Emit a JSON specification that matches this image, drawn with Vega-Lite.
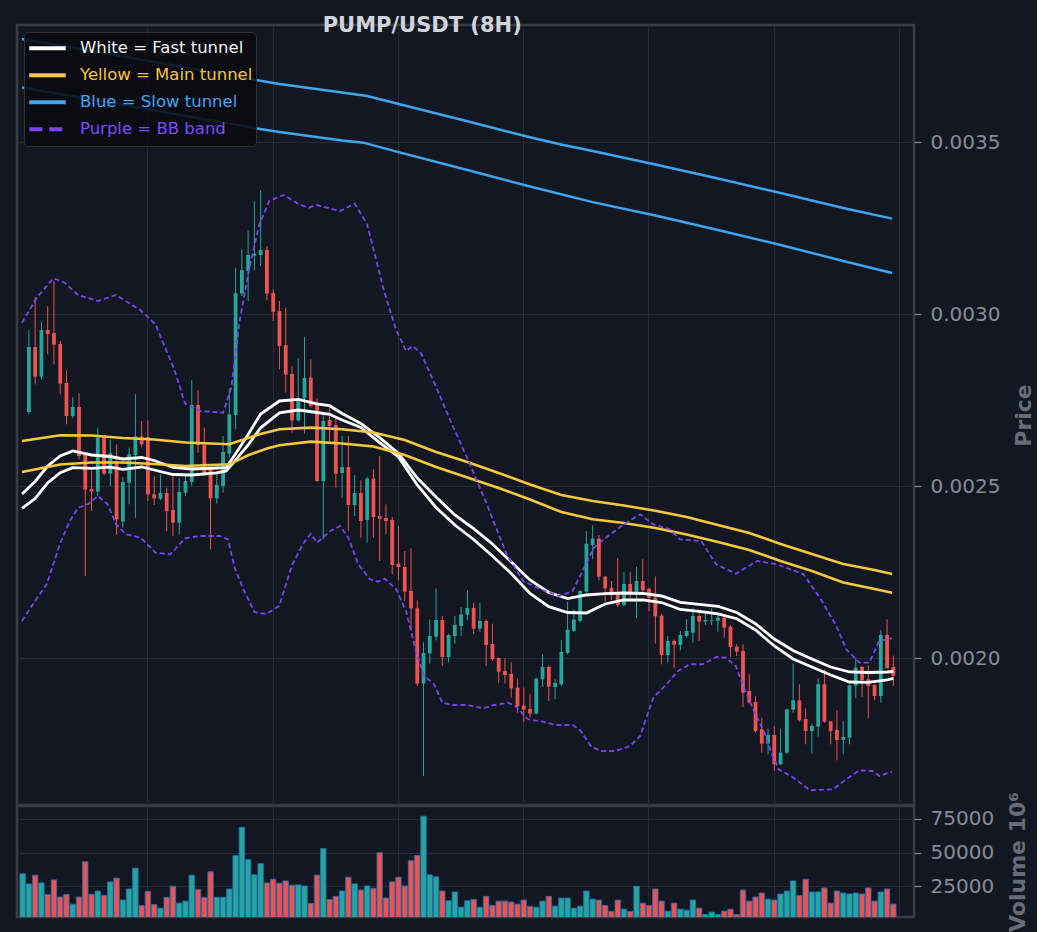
{
  "$schema": "https://vega.github.io/schema/vega-lite/v6.json",
  "background": "#131722",
  "padding": {"left": 15, "top": 14, "right": 0, "bottom": 0},
  "bounds": "flush",
  "title": {
    "text": "PUMP/USDT (8H)",
    "font": "DejaVu Sans",
    "fontSize": 21,
    "fontWeight": "bold",
    "color": "#d1d4dc",
    "anchor": "start",
    "dx": 307,
    "offset": -12
  },
  "datasets": {
    "candles": [
      {"i": -1, "v": 34310},
      {"i": 0, "o": 0.0027157, "h": 0.0029541, "l": 0.0027089, "c": 0.0029046, "v": 26845},
      {"i": 1, "o": 0.0029046, "h": 0.0030500, "l": 0.0027961, "c": 0.0028184, "v": 33314},
      {"i": 2, "o": 0.0028184, "h": 0.0029773, "l": 0.0028097, "c": 0.0029541, "v": 27592},
      {"i": 3, "o": 0.0029541, "h": 0.0030229, "l": 0.0028833, "c": 0.0029424, "v": 19133},
      {"i": 4, "o": 0.0029453, "h": 0.0030965, "l": 0.0028543, "c": 0.0029114, "v": 29831},
      {"i": 5, "o": 0.0029134, "h": 0.0029221, "l": 0.0027670, "c": 0.0027980, "v": 17142},
      {"i": 6, "o": 0.0028000, "h": 0.0028368, "l": 0.0026798, "c": 0.0027041, "v": 19133},
      {"i": 7, "o": 0.0027041, "h": 0.0027583, "l": 0.0026973, "c": 0.0027302, "v": 11918},
      {"i": 8, "o": 0.0027302, "h": 0.0027699, "l": 0.0025781, "c": 0.0025878, "v": 17142},
      {"i": 9, "o": 0.0025926, "h": 0.0025926, "l": 0.0022389, "c": 0.0024899, "v": 43266},
      {"i": 10, "o": 0.0024918, "h": 0.0025442, "l": 0.0024279, "c": 0.0024841, "v": 19133},
      {"i": 11, "o": 0.0024841, "h": 0.0026701, "l": 0.0024715, "c": 0.0026411, "v": 21621},
      {"i": 12, "o": 0.0026411, "h": 0.0026459, "l": 0.0025325, "c": 0.0025364, "v": 18386},
      {"i": 13, "o": 0.0025364, "h": 0.0026353, "l": 0.0025006, "c": 0.0025955, "v": 28338},
      {"i": 14, "o": 0.0025684, "h": 0.0026217, "l": 0.0023581, "c": 0.0024037, "v": 31075},
      {"i": 15, "o": 0.0023969, "h": 0.0025267, "l": 0.0023794, "c": 0.0025122, "v": 14903},
      {"i": 16, "o": 0.0025103, "h": 0.0026120, "l": 0.0024473, "c": 0.0025926, "v": 23114},
      {"i": 17, "o": 0.0025907, "h": 0.0027670, "l": 0.0024085, "c": 0.0026449, "v": 38539},
      {"i": 18, "o": 0.0026449, "h": 0.0026895, "l": 0.0026120, "c": 0.0026217, "v": 10922},
      {"i": 19, "o": 0.0026430, "h": 0.0026915, "l": 0.0024570, "c": 0.0024763, "v": 21372},
      {"i": 20, "o": 0.0024763, "h": 0.0025296, "l": 0.0024453, "c": 0.0024647, "v": 11669},
      {"i": 21, "o": 0.0024637, "h": 0.0025345, "l": 0.0024589, "c": 0.0024802, "v": 8932},
      {"i": 22, "o": 0.0024802, "h": 0.0024957, "l": 0.0023697, "c": 0.0024279, "v": 16894},
      {"i": 23, "o": 0.0024308, "h": 0.0025345, "l": 0.0023552, "c": 0.0023940, "v": 25104},
      {"i": 24, "o": 0.0023940, "h": 0.0025219, "l": 0.0023601, "c": 0.0024831, "v": 12664},
      {"i": 25, "o": 0.0024812, "h": 0.0025345, "l": 0.0024715, "c": 0.0025151, "v": 14157},
      {"i": 26, "o": 0.0025122, "h": 0.0028077, "l": 0.0025006, "c": 0.0027360, "v": 33314},
      {"i": 27, "o": 0.0027360, "h": 0.0027787, "l": 0.0025975, "c": 0.0026198, "v": 22865},
      {"i": 28, "o": 0.0026198, "h": 0.0026701, "l": 0.0025296, "c": 0.0025345, "v": 16894},
      {"i": 29, "o": 0.0025519, "h": 0.0025519, "l": 0.0023165, "c": 0.0024647, "v": 35802},
      {"i": 30, "o": 0.0024647, "h": 0.0025442, "l": 0.0024492, "c": 0.0025035, "v": 16894},
      {"i": 31, "o": 0.0025006, "h": 0.0026459, "l": 0.0024812, "c": 0.0025994, "v": 16894},
      {"i": 32, "o": 0.0025946, "h": 0.0027845, "l": 0.0025829, "c": 0.0027089, "v": 23114},
      {"i": 33, "o": 0.0027070, "h": 0.0031353, "l": 0.0026653, "c": 0.0030606, "v": 47745},
      {"i": 34, "o": 0.0030597, "h": 0.0031886, "l": 0.0030529, "c": 0.0031285, "v": 68644},
      {"i": 35, "o": 0.0031256, "h": 0.0032438, "l": 0.0030384, "c": 0.0031721, "v": 44759},
      {"i": 36, "o": 0.0031701, "h": 0.0033291, "l": 0.0031275, "c": 0.0031760, "v": 33563},
      {"i": 37, "o": 0.0031721, "h": 0.0033601, "l": 0.0031401, "c": 0.0031866, "v": 41774},
      {"i": 38, "o": 0.0031866, "h": 0.0031982, "l": 0.0030403, "c": 0.0030597, "v": 27592},
      {"i": 39, "o": 0.0030616, "h": 0.0030723, "l": 0.0029802, "c": 0.0030074, "v": 30329},
      {"i": 40, "o": 0.0030093, "h": 0.0030384, "l": 0.0028397, "c": 0.0029075, "v": 27343},
      {"i": 41, "o": 0.0029105, "h": 0.0030190, "l": 0.0027719, "c": 0.0028242, "v": 29085},
      {"i": 42, "o": 0.0028261, "h": 0.0028484, "l": 0.0026556, "c": 0.0026915, "v": 25850},
      {"i": 43, "o": 0.0026915, "h": 0.0028717, "l": 0.0026876, "c": 0.0027554, "v": 26099},
      {"i": 44, "o": 0.0027554, "h": 0.0029337, "l": 0.0026527, "c": 0.0028145, "v": 25353},
      {"i": 45, "o": 0.0028155, "h": 0.0028688, "l": 0.0027283, "c": 0.0027331, "v": 12415},
      {"i": 46, "o": 0.0027399, "h": 0.0027554, "l": 0.0025132, "c": 0.0025151, "v": 33314},
      {"i": 47, "o": 0.0025151, "h": 0.0027089, "l": 0.0023455, "c": 0.0026895, "v": 52970},
      {"i": 48, "o": 0.0026924, "h": 0.0027263, "l": 0.0026314, "c": 0.0026750, "v": 15401},
      {"i": 49, "o": 0.0026779, "h": 0.0026992, "l": 0.0024957, "c": 0.0025364, "v": 17640},
      {"i": 50, "o": 0.0025383, "h": 0.0026459, "l": 0.0024666, "c": 0.0025558, "v": 21621},
      {"i": 51, "o": 0.0025558, "h": 0.0026459, "l": 0.0023697, "c": 0.0024453, "v": 31822},
      {"i": 52, "o": 0.0024453, "h": 0.0025325, "l": 0.0024133, "c": 0.0024802, "v": 26845},
      {"i": 53, "o": 0.0024802, "h": 0.0025170, "l": 0.0023504, "c": 0.0023988, "v": 22367},
      {"i": 54, "o": 0.0024017, "h": 0.0025267, "l": 0.0023358, "c": 0.0025219, "v": 25353},
      {"i": 55, "o": 0.0025219, "h": 0.0025490, "l": 0.0023504, "c": 0.0024104, "v": 23611},
      {"i": 56, "o": 0.0024133, "h": 0.0025878, "l": 0.0022825, "c": 0.0024056, "v": 49984},
      {"i": 57, "o": 0.0024075, "h": 0.0024473, "l": 0.0023600, "c": 0.0023988, "v": 16396},
      {"i": 58, "o": 0.0024017, "h": 0.0024104, "l": 0.0022438, "c": 0.0022709, "v": 28338},
      {"i": 59, "o": 0.0022748, "h": 0.0023843, "l": 0.0022263, "c": 0.0022651, "v": 31822},
      {"i": 60, "o": 0.0022651, "h": 0.0023116, "l": 0.0021662, "c": 0.0021934, "v": 25353},
      {"i": 61, "o": 0.0021953, "h": 0.0023194, "l": 0.0020810, "c": 0.0021449, "v": 44013},
      {"i": 62, "o": 0.0021449, "h": 0.0021682, "l": 0.0019192, "c": 0.0019259, "v": 47745},
      {"i": 63, "o": 0.0019259, "h": 0.0020470, "l": 0.0016575, "c": 0.0020151, "v": 76854},
      {"i": 64, "o": 0.0020141, "h": 0.0021130, "l": 0.0019841, "c": 0.0020645, "v": 33563},
      {"i": 65, "o": 0.0020626, "h": 0.0022031, "l": 0.0020519, "c": 0.0021110, "v": 32070},
      {"i": 66, "o": 0.0021110, "h": 0.0021226, "l": 0.0019773, "c": 0.0020035, "v": 21621},
      {"i": 67, "o": 0.0020035, "h": 0.0020713, "l": 0.0019870, "c": 0.0020674, "v": 14406},
      {"i": 68, "o": 0.0020646, "h": 0.0021227, "l": 0.0020423, "c": 0.0020965, "v": 20874},
      {"i": 69, "o": 0.0020936, "h": 0.0021489, "l": 0.0020636, "c": 0.0021275, "v": 9678},
      {"i": 70, "o": 0.0021266, "h": 0.0021973, "l": 0.0021101, "c": 0.0021460, "v": 14406},
      {"i": 71, "o": 0.0021460, "h": 0.0021605, "l": 0.0020694, "c": 0.0020859, "v": 15401},
      {"i": 72, "o": 0.0020859, "h": 0.0021605, "l": 0.0020772, "c": 0.0021082, "v": 9678},
      {"i": 73, "o": 0.0021082, "h": 0.0021130, "l": 0.0019773, "c": 0.0020384, "v": 17640},
      {"i": 74, "o": 0.0020413, "h": 0.0021004, "l": 0.0019919, "c": 0.0019967, "v": 10922},
      {"i": 75, "o": 0.0020006, "h": 0.0020006, "l": 0.0019289, "c": 0.0019609, "v": 14157},
      {"i": 76, "o": 0.0019628, "h": 0.0019996, "l": 0.0019260, "c": 0.0019512, "v": 14157},
      {"i": 77, "o": 0.0019541, "h": 0.0019880, "l": 0.0018853, "c": 0.0019124, "v": 13410},
      {"i": 78, "o": 0.0019144, "h": 0.0019415, "l": 0.0018417, "c": 0.0018601, "v": 11918},
      {"i": 79, "o": 0.0018620, "h": 0.0019144, "l": 0.0018146, "c": 0.0018504, "v": 14903},
      {"i": 80, "o": 0.0018523, "h": 0.0018969, "l": 0.0018272, "c": 0.0018388, "v": 10176},
      {"i": 81, "o": 0.0018388, "h": 0.0019434, "l": 0.0018368, "c": 0.0019405, "v": 9678},
      {"i": 82, "o": 0.0019386, "h": 0.0020113, "l": 0.0019163, "c": 0.0019744, "v": 14157},
      {"i": 83, "o": 0.0019744, "h": 0.0019793, "l": 0.0018756, "c": 0.0019173, "v": 17640},
      {"i": 84, "o": 0.0019163, "h": 0.0019386, "l": 0.0018804, "c": 0.0019279, "v": 10425},
      {"i": 85, "o": 0.0019240, "h": 0.0020529, "l": 0.0019192, "c": 0.0020180, "v": 16396},
      {"i": 86, "o": 0.0020151, "h": 0.0021634, "l": 0.0020113, "c": 0.0020830, "v": 16396},
      {"i": 87, "o": 0.0020791, "h": 0.0021421, "l": 0.0020762, "c": 0.0021120, "v": 8932},
      {"i": 88, "o": 0.0021082, "h": 0.0021973, "l": 0.0021033, "c": 0.0021954, "v": 10425},
      {"i": 89, "o": 0.0021934, "h": 0.0023698, "l": 0.0021876, "c": 0.0023330, "v": 21621},
      {"i": 90, "o": 0.0023291, "h": 0.0023863, "l": 0.0022874, "c": 0.0023475, "v": 15650},
      {"i": 91, "o": 0.0023475, "h": 0.0023581, "l": 0.0022263, "c": 0.0022370, "v": 14903},
      {"i": 92, "o": 0.0022370, "h": 0.0022389, "l": 0.0021643, "c": 0.0022031, "v": 10922},
      {"i": 93, "o": 0.0022041, "h": 0.0022244, "l": 0.0021682, "c": 0.0021837, "v": 6444},
      {"i": 94, "o": 0.0021856, "h": 0.0022903, "l": 0.0021488, "c": 0.0021546, "v": 14903},
      {"i": 95, "o": 0.0021546, "h": 0.0022506, "l": 0.0021508, "c": 0.0022157, "v": 8186},
      {"i": 96, "o": 0.0022157, "h": 0.0022506, "l": 0.0021740, "c": 0.0021885, "v": 6444},
      {"i": 97, "o": 0.0021885, "h": 0.0022651, "l": 0.0021159, "c": 0.0022244, "v": 25104},
      {"i": 98, "o": 0.0022244, "h": 0.0022874, "l": 0.0021905, "c": 0.0021973, "v": 12664},
      {"i": 99, "o": 0.0022021, "h": 0.0022050, "l": 0.0021372, "c": 0.0021759, "v": 10922},
      {"i": 100, "o": 0.0021759, "h": 0.0022380, "l": 0.0020422, "c": 0.0021217, "v": 23114},
      {"i": 101, "o": 0.0021236, "h": 0.0021294, "l": 0.0019821, "c": 0.0020093, "v": 14157},
      {"i": 102, "o": 0.0020093, "h": 0.0020645, "l": 0.0019870, "c": 0.0020500, "v": 6693},
      {"i": 103, "o": 0.0020500, "h": 0.0020548, "l": 0.0019725, "c": 0.0020393, "v": 12664},
      {"i": 104, "o": 0.0020384, "h": 0.0020790, "l": 0.0020228, "c": 0.0020674, "v": 8186},
      {"i": 105, "o": 0.0020645, "h": 0.0021139, "l": 0.0020597, "c": 0.0020790, "v": 7439},
      {"i": 106, "o": 0.0020742, "h": 0.0021469, "l": 0.0020451, "c": 0.0021227, "v": 14903},
      {"i": 107, "o": 0.0021227, "h": 0.0021323, "l": 0.0020500, "c": 0.0021062, "v": 8932},
      {"i": 108, "o": 0.0021062, "h": 0.0021323, "l": 0.0020965, "c": 0.0021110, "v": 4205},
      {"i": 109, "o": 0.0021091, "h": 0.0021449, "l": 0.0020965, "c": 0.0021110, "v": 5946},
      {"i": 110, "o": 0.0021091, "h": 0.0021256, "l": 0.0020771, "c": 0.0021178, "v": 4205},
      {"i": 111, "o": 0.0021178, "h": 0.0021227, "l": 0.0020597, "c": 0.0020887, "v": 6693},
      {"i": 112, "o": 0.0020916, "h": 0.0020965, "l": 0.0020035, "c": 0.0020325, "v": 8186},
      {"i": 113, "o": 0.0020335, "h": 0.0020403, "l": 0.0020064, "c": 0.0020190, "v": 4205},
      {"i": 114, "o": 0.0020210, "h": 0.0020403, "l": 0.0018582, "c": 0.0018998, "v": 22367},
      {"i": 115, "o": 0.0019047, "h": 0.0019531, "l": 0.0018679, "c": 0.0018708, "v": 14157},
      {"i": 116, "o": 0.0018727, "h": 0.0018892, "l": 0.0017836, "c": 0.0017884, "v": 17142},
      {"i": 117, "o": 0.0017933, "h": 0.0018272, "l": 0.0017254, "c": 0.0017516, "v": 20128},
      {"i": 118, "o": 0.0017516, "h": 0.0017952, "l": 0.0017206, "c": 0.0017768, "v": 15650},
      {"i": 119, "o": 0.0017768, "h": 0.0018020, "l": 0.0016721, "c": 0.0016915, "v": 14903},
      {"i": 120, "o": 0.0016915, "h": 0.0017952, "l": 0.0016896, "c": 0.0017254, "v": 19382},
      {"i": 121, "o": 0.0017254, "h": 0.0018514, "l": 0.0017206, "c": 0.0018514, "v": 21621},
      {"i": 122, "o": 0.0018504, "h": 0.0019841, "l": 0.0018417, "c": 0.0018776, "v": 29085},
      {"i": 123, "o": 0.0018776, "h": 0.0019241, "l": 0.0018155, "c": 0.0018194, "v": 18386},
      {"i": 124, "o": 0.0018233, "h": 0.0018543, "l": 0.0017496, "c": 0.0017884, "v": 30329},
      {"i": 125, "o": 0.0017884, "h": 0.0018097, "l": 0.0017225, "c": 0.0018029, "v": 20874},
      {"i": 126, "o": 0.0018010, "h": 0.0019415, "l": 0.0017719, "c": 0.0019241, "v": 20874},
      {"i": 127, "o": 0.0019241, "h": 0.0019677, "l": 0.0018126, "c": 0.0018155, "v": 23860},
      {"i": 128, "o": 0.0018165, "h": 0.0018165, "l": 0.0017496, "c": 0.0017884, "v": 12664},
      {"i": 129, "o": 0.0017913, "h": 0.0018485, "l": 0.0017031, "c": 0.0017622, "v": 21621},
      {"i": 130, "o": 0.0017622, "h": 0.0018165, "l": 0.0017206, "c": 0.0017710, "v": 20128},
      {"i": 131, "o": 0.0017690, "h": 0.0019231, "l": 0.0017496, "c": 0.0019212, "v": 19382},
      {"i": 132, "o": 0.0019202, "h": 0.0019996, "l": 0.0018834, "c": 0.0019725, "v": 20128},
      {"i": 133, "o": 0.0019745, "h": 0.0019774, "l": 0.0018872, "c": 0.0019367, "v": 19382},
      {"i": 134, "o": 0.0019386, "h": 0.0019793, "l": 0.0018252, "c": 0.0019192, "v": 23860},
      {"i": 135, "o": 0.0019221, "h": 0.0019241, "l": 0.0018776, "c": 0.0018902, "v": 14157},
      {"i": 136, "o": 0.0018902, "h": 0.0020810, "l": 0.0018708, "c": 0.0020675, "v": 20874},
      {"i": 137, "o": 0.0020675, "h": 0.0021130, "l": 0.0019706, "c": 0.0019706, "v": 23114},
      {"i": 138, "o": 0.0019745, "h": 0.0020074, "l": 0.0019192, "c": 0.0019483, "v": 11918}
    ],
    "lines": [
      {"g": "W", "k": "W1", "i": -1.1, "p": 0.0024773},
      {"g": "W", "k": "W1", "i": 1, "p": 0.0025137},
      {"g": "W", "k": "W1", "i": 3, "p": 0.0025587},
      {"g": "W", "k": "W1", "i": 5, "p": 0.0025878},
      {"g": "W", "k": "W1", "i": 7, "p": 0.0026023},
      {"g": "W", "k": "W1", "i": 10, "p": 0.0025907},
      {"g": "W", "k": "W1", "i": 13, "p": 0.0025863},
      {"g": "W", "k": "W1", "i": 15, "p": 0.0025791},
      {"g": "W", "k": "W1", "i": 18, "p": 0.0025834},
      {"g": "W", "k": "W1", "i": 20, "p": 0.0025747},
      {"g": "W", "k": "W1", "i": 23, "p": 0.0025544},
      {"g": "W", "k": "W1", "i": 26, "p": 0.0025500},
      {"g": "W", "k": "W1", "i": 30, "p": 0.0025529},
      {"g": "W", "k": "W1", "i": 31.5, "p": 0.0025538},
      {"g": "W", "k": "W1", "i": 33, "p": 0.0025945},
      {"g": "W", "k": "W1", "i": 35, "p": 0.0026503},
      {"g": "W", "k": "W1", "i": 37, "p": 0.0027099},
      {"g": "W", "k": "W1", "i": 40, "p": 0.0027477},
      {"g": "W", "k": "W1", "i": 43, "p": 0.0027526},
      {"g": "W", "k": "W1", "i": 46, "p": 0.0027390},
      {"g": "W", "k": "W1", "i": 48, "p": 0.0027340},
      {"g": "W", "k": "W1", "i": 50, "p": 0.0027113},
      {"g": "W", "k": "W1", "i": 53, "p": 0.0026823},
      {"g": "W", "k": "W1", "i": 56, "p": 0.0026410},
      {"g": "W", "k": "W1", "i": 59, "p": 0.0025951},
      {"g": "W", "k": "W1", "i": 62, "p": 0.0025238},
      {"g": "W", "k": "W1", "i": 65, "p": 0.0024686},
      {"g": "W", "k": "W1", "i": 68, "p": 0.0024163},
      {"g": "W", "k": "W1", "i": 71, "p": 0.0023765},
      {"g": "W", "k": "W1", "i": 74, "p": 0.0023320},
      {"g": "W", "k": "W1", "i": 77, "p": 0.0022796},
      {"g": "W", "k": "W1", "i": 80, "p": 0.0022273},
      {"g": "W", "k": "W1", "i": 83, "p": 0.0021910},
      {"g": "W", "k": "W1", "i": 86, "p": 0.0021735},
      {"g": "W", "k": "W1", "i": 89, "p": 0.0021837},
      {"g": "W", "k": "W1", "i": 92, "p": 0.0021875},
      {"g": "W", "k": "W1", "i": 95, "p": 0.0021895},
      {"g": "W", "k": "W1", "i": 98, "p": 0.0021881},
      {"g": "W", "k": "W1", "i": 101, "p": 0.0021808},
      {"g": "W", "k": "W1", "i": 104, "p": 0.0021625},
      {"g": "W", "k": "W1", "i": 107, "p": 0.0021567},
      {"g": "W", "k": "W1", "i": 110, "p": 0.0021509},
      {"g": "W", "k": "W1", "i": 113, "p": 0.0021328},
      {"g": "W", "k": "W1", "i": 116, "p": 0.0021003},
      {"g": "W", "k": "W1", "i": 119, "p": 0.0020558},
      {"g": "W", "k": "W1", "i": 122, "p": 0.0020224},
      {"g": "W", "k": "W1", "i": 125, "p": 0.0019977},
      {"g": "W", "k": "W1", "i": 128, "p": 0.0019744},
      {"g": "W", "k": "W1", "i": 131, "p": 0.0019599},
      {"g": "W", "k": "W1", "i": 134, "p": 0.0019584},
      {"g": "W", "k": "W1", "i": 137, "p": 0.0019599},
      {"g": "W", "k": "W1", "i": 138, "p": 0.0019613},
      {"g": "W", "k": "W2", "i": -1.1, "p": 0.0024352},
      {"g": "W", "k": "W2", "i": 1, "p": 0.0024642},
      {"g": "W", "k": "W2", "i": 3, "p": 0.0025093},
      {"g": "W", "k": "W2", "i": 5, "p": 0.0025392},
      {"g": "W", "k": "W2", "i": 7, "p": 0.0025538},
      {"g": "W", "k": "W2", "i": 10, "p": 0.0025520},
      {"g": "W", "k": "W2", "i": 13, "p": 0.0025552},
      {"g": "W", "k": "W2", "i": 15, "p": 0.0025491},
      {"g": "W", "k": "W2", "i": 18, "p": 0.0025558},
      {"g": "W", "k": "W2", "i": 20, "p": 0.0025471},
      {"g": "W", "k": "W2", "i": 23, "p": 0.0025340},
      {"g": "W", "k": "W2", "i": 26, "p": 0.0025326},
      {"g": "W", "k": "W2", "i": 30, "p": 0.0025384},
      {"g": "W", "k": "W2", "i": 31.5, "p": 0.0025442},
      {"g": "W", "k": "W2", "i": 33, "p": 0.0025756},
      {"g": "W", "k": "W2", "i": 35, "p": 0.0026198},
      {"g": "W", "k": "W2", "i": 37, "p": 0.0026698},
      {"g": "W", "k": "W2", "i": 40, "p": 0.0027130},
      {"g": "W", "k": "W2", "i": 43, "p": 0.0027215},
      {"g": "W", "k": "W2", "i": 46, "p": 0.0027142},
      {"g": "W", "k": "W2", "i": 48, "p": 0.0027090},
      {"g": "W", "k": "W2", "i": 50, "p": 0.0026924},
      {"g": "W", "k": "W2", "i": 53, "p": 0.0026706},
      {"g": "W", "k": "W2", "i": 56, "p": 0.0026265},
      {"g": "W", "k": "W2", "i": 59, "p": 0.0025849},
      {"g": "W", "k": "W2", "i": 62, "p": 0.0025035},
      {"g": "W", "k": "W2", "i": 65, "p": 0.0024381},
      {"g": "W", "k": "W2", "i": 68, "p": 0.0023872},
      {"g": "W", "k": "W2", "i": 71, "p": 0.0023451},
      {"g": "W", "k": "W2", "i": 74, "p": 0.0022971},
      {"g": "W", "k": "W2", "i": 77, "p": 0.0022462},
      {"g": "W", "k": "W2", "i": 80, "p": 0.0021881},
      {"g": "W", "k": "W2", "i": 83, "p": 0.0021497},
      {"g": "W", "k": "W2", "i": 86, "p": 0.0021328},
      {"g": "W", "k": "W2", "i": 89, "p": 0.0021314},
      {"g": "W", "k": "W2", "i": 92, "p": 0.0021576},
      {"g": "W", "k": "W2", "i": 95, "p": 0.0021692},
      {"g": "W", "k": "W2", "i": 98, "p": 0.0021692},
      {"g": "W", "k": "W2", "i": 101, "p": 0.0021619},
      {"g": "W", "k": "W2", "i": 104, "p": 0.0021416},
      {"g": "W", "k": "W2", "i": 107, "p": 0.0021358},
      {"g": "W", "k": "W2", "i": 110, "p": 0.0021285},
      {"g": "W", "k": "W2", "i": 113, "p": 0.0021148},
      {"g": "W", "k": "W2", "i": 116, "p": 0.0020820},
      {"g": "W", "k": "W2", "i": 119, "p": 0.0020355},
      {"g": "W", "k": "W2", "i": 122, "p": 0.0019977},
      {"g": "W", "k": "W2", "i": 125, "p": 0.0019744},
      {"g": "W", "k": "W2", "i": 128, "p": 0.0019512},
      {"g": "W", "k": "W2", "i": 131, "p": 0.0019308},
      {"g": "W", "k": "W2", "i": 134, "p": 0.0019294},
      {"g": "W", "k": "W2", "i": 137, "p": 0.0019366},
      {"g": "W", "k": "W2", "i": 138, "p": 0.0019410},
      {"g": "Y", "k": "Y1", "i": -1.1, "p": 0.0026314},
      {"g": "Y", "k": "Y1", "i": 5, "p": 0.0026480},
      {"g": "Y", "k": "Y1", "i": 10, "p": 0.0026474},
      {"g": "Y", "k": "Y1", "i": 15, "p": 0.0026401},
      {"g": "Y", "k": "Y1", "i": 20, "p": 0.0026358},
      {"g": "Y", "k": "Y1", "i": 25, "p": 0.0026270},
      {"g": "Y", "k": "Y1", "i": 32, "p": 0.0026218},
      {"g": "Y", "k": "Y1", "i": 36.8, "p": 0.0026509},
      {"g": "Y", "k": "Y1", "i": 40, "p": 0.0026654},
      {"g": "Y", "k": "Y1", "i": 45, "p": 0.0026701},
      {"g": "Y", "k": "Y1", "i": 50, "p": 0.0026654},
      {"g": "Y", "k": "Y1", "i": 55, "p": 0.0026561},
      {"g": "Y", "k": "Y1", "i": 60, "p": 0.0026343},
      {"g": "Y", "k": "Y1", "i": 65, "p": 0.0025994},
      {"g": "Y", "k": "Y1", "i": 70, "p": 0.0025703},
      {"g": "Y", "k": "Y1", "i": 75, "p": 0.0025384},
      {"g": "Y", "k": "Y1", "i": 80, "p": 0.0025049},
      {"g": "Y", "k": "Y1", "i": 85, "p": 0.0024744},
      {"g": "Y", "k": "Y1", "i": 90, "p": 0.0024570},
      {"g": "Y", "k": "Y1", "i": 95, "p": 0.0024439},
      {"g": "Y", "k": "Y1", "i": 100, "p": 0.0024288},
      {"g": "Y", "k": "Y1", "i": 105, "p": 0.0024105},
      {"g": "Y", "k": "Y1", "i": 110, "p": 0.0023872},
      {"g": "Y", "k": "Y1", "i": 115, "p": 0.0023640},
      {"g": "Y", "k": "Y1", "i": 120, "p": 0.0023320},
      {"g": "Y", "k": "Y1", "i": 125, "p": 0.0023029},
      {"g": "Y", "k": "Y1", "i": 130, "p": 0.0022738},
      {"g": "Y", "k": "Y1", "i": 135, "p": 0.0022564},
      {"g": "Y", "k": "Y1", "i": 137.8, "p": 0.0022448},
      {"g": "Y", "k": "Y2", "i": -1.1, "p": 0.0025413},
      {"g": "Y", "k": "Y2", "i": 5, "p": 0.0025631},
      {"g": "Y", "k": "Y2", "i": 10, "p": 0.0025689},
      {"g": "Y", "k": "Y2", "i": 15, "p": 0.0025689},
      {"g": "Y", "k": "Y2", "i": 20, "p": 0.0025645},
      {"g": "Y", "k": "Y2", "i": 25, "p": 0.0025587},
      {"g": "Y", "k": "Y2", "i": 32, "p": 0.0025636},
      {"g": "Y", "k": "Y2", "i": 35, "p": 0.0025900},
      {"g": "Y", "k": "Y2", "i": 38, "p": 0.0026096},
      {"g": "Y", "k": "Y2", "i": 40, "p": 0.0026189},
      {"g": "Y", "k": "Y2", "i": 45, "p": 0.0026294},
      {"g": "Y", "k": "Y2", "i": 50, "p": 0.0026241},
      {"g": "Y", "k": "Y2", "i": 55, "p": 0.0026154},
      {"g": "Y", "k": "Y2", "i": 60, "p": 0.0025907},
      {"g": "Y", "k": "Y2", "i": 65, "p": 0.0025558},
      {"g": "Y", "k": "Y2", "i": 70, "p": 0.0025253},
      {"g": "Y", "k": "Y2", "i": 75, "p": 0.0024948},
      {"g": "Y", "k": "Y2", "i": 80, "p": 0.0024613},
      {"g": "Y", "k": "Y2", "i": 85, "p": 0.0024250},
      {"g": "Y", "k": "Y2", "i": 90, "p": 0.0024038},
      {"g": "Y", "k": "Y2", "i": 95, "p": 0.0023930},
      {"g": "Y", "k": "Y2", "i": 100, "p": 0.0023785},
      {"g": "Y", "k": "Y2", "i": 105, "p": 0.0023596},
      {"g": "Y", "k": "Y2", "i": 110, "p": 0.0023378},
      {"g": "Y", "k": "Y2", "i": 115, "p": 0.0023145},
      {"g": "Y", "k": "Y2", "i": 120, "p": 0.0022826},
      {"g": "Y", "k": "Y2", "i": 125, "p": 0.0022535},
      {"g": "Y", "k": "Y2", "i": 130, "p": 0.0022201},
      {"g": "Y", "k": "Y2", "i": 135, "p": 0.0022012},
      {"g": "Y", "k": "Y2", "i": 137.8, "p": 0.0021904},
      {"g": "B", "k": "B1", "i": -1.1, "p": 0.0038000},
      {"g": "B", "k": "B1", "i": 10, "p": 0.0037651},
      {"g": "B", "k": "B1", "i": 20, "p": 0.0037331},
      {"g": "B", "k": "B1", "i": 30, "p": 0.0037012},
      {"g": "B", "k": "B1", "i": 37.2, "p": 0.0036779},
      {"g": "B", "k": "B1", "i": 40, "p": 0.0036692},
      {"g": "B", "k": "B1", "i": 50, "p": 0.0036445},
      {"g": "B", "k": "B1", "i": 54, "p": 0.0036343},
      {"g": "B", "k": "B1", "i": 60, "p": 0.0036067},
      {"g": "B", "k": "B1", "i": 70, "p": 0.0035608},
      {"g": "B", "k": "B1", "i": 80, "p": 0.0035143},
      {"g": "B", "k": "B1", "i": 85.3, "p": 0.0034919},
      {"g": "B", "k": "B1", "i": 90, "p": 0.0034744},
      {"g": "B", "k": "B1", "i": 100, "p": 0.0034352},
      {"g": "B", "k": "B1", "i": 110, "p": 0.0033945},
      {"g": "B", "k": "B1", "i": 120, "p": 0.0033523},
      {"g": "B", "k": "B1", "i": 130, "p": 0.0033087},
      {"g": "B", "k": "B1", "i": 137.8, "p": 0.0032776},
      {"g": "B", "k": "B2", "i": -1.1, "p": 0.0036590},
      {"g": "B", "k": "B2", "i": 10, "p": 0.0036241},
      {"g": "B", "k": "B2", "i": 20, "p": 0.0035924},
      {"g": "B", "k": "B2", "i": 30, "p": 0.0035605},
      {"g": "B", "k": "B2", "i": 37.2, "p": 0.0035375},
      {"g": "B", "k": "B2", "i": 40, "p": 0.0035297},
      {"g": "B", "k": "B2", "i": 50, "p": 0.0035049},
      {"g": "B", "k": "B2", "i": 53.4, "p": 0.0034985},
      {"g": "B", "k": "B2", "i": 58.7, "p": 0.0034724},
      {"g": "B", "k": "B2", "i": 70, "p": 0.0034192},
      {"g": "B", "k": "B2", "i": 80, "p": 0.0033712},
      {"g": "B", "k": "B2", "i": 90, "p": 0.0033256},
      {"g": "B", "k": "B2", "i": 100, "p": 0.0032869},
      {"g": "B", "k": "B2", "i": 110, "p": 0.0032448},
      {"g": "B", "k": "B2", "i": 120, "p": 0.0032012},
      {"g": "B", "k": "B2", "i": 130, "p": 0.0031547},
      {"g": "B", "k": "B2", "i": 137.8, "p": 0.0031198}
    ],
    "bands": [
      {"g": "P", "k": "P1", "i": -1.1, "p": 0.0029750},
      {"g": "P", "k": "P1", "i": 1.26, "p": 0.0030480},
      {"g": "P", "k": "P1", "i": 3.9, "p": 0.0031044},
      {"g": "P", "k": "P1", "i": 5.73, "p": 0.0030916},
      {"g": "P", "k": "P1", "i": 7.85, "p": 0.0030558},
      {"g": "P", "k": "P1", "i": 11.01, "p": 0.0030384},
      {"g": "P", "k": "P1", "i": 13.9, "p": 0.0030558},
      {"g": "P", "k": "P1", "i": 17.84, "p": 0.0030113},
      {"g": "P", "k": "P1", "i": 20.21, "p": 0.0029706},
      {"g": "P", "k": "P1", "i": 21.52, "p": 0.0029125},
      {"g": "P", "k": "P1", "i": 23.1, "p": 0.0028445},
      {"g": "P", "k": "P1", "i": 24.95, "p": 0.0027398},
      {"g": "P", "k": "P1", "i": 27.32, "p": 0.0027186},
      {"g": "P", "k": "P1", "i": 31.0, "p": 0.0027137},
      {"g": "P", "k": "P1", "i": 32.32, "p": 0.0027863},
      {"g": "P", "k": "P1", "i": 33.63, "p": 0.0029802},
      {"g": "P", "k": "P1", "i": 35.21, "p": 0.0031352},
      {"g": "P", "k": "P1", "i": 36.79, "p": 0.0032613},
      {"g": "P", "k": "P1", "i": 38.37, "p": 0.0033291},
      {"g": "P", "k": "P1", "i": 40.68, "p": 0.0033465},
      {"g": "P", "k": "P1", "i": 43.11, "p": 0.0033195},
      {"g": "P", "k": "P1", "i": 44.69, "p": 0.0033096},
      {"g": "P", "k": "P1", "i": 45.95, "p": 0.0033174},
      {"g": "P", "k": "P1", "i": 49.68, "p": 0.0033000},
      {"g": "P", "k": "P1", "i": 52.01, "p": 0.0033212},
      {"g": "P", "k": "P1", "i": 54.0, "p": 0.0032613},
      {"g": "P", "k": "P1", "i": 56.69, "p": 0.0030674},
      {"g": "P", "k": "P1", "i": 58.58, "p": 0.0029570},
      {"g": "P", "k": "P1", "i": 60.21, "p": 0.0028930},
      {"g": "P", "k": "P1", "i": 61.27, "p": 0.0029076},
      {"g": "P", "k": "P1", "i": 62.58, "p": 0.0028872},
      {"g": "P", "k": "P1", "i": 64.95, "p": 0.0027913},
      {"g": "P", "k": "P1", "i": 67.31, "p": 0.0026895},
      {"g": "P", "k": "P1", "i": 69.95, "p": 0.0025828},
      {"g": "P", "k": "P1", "i": 73.11, "p": 0.0024474},
      {"g": "P", "k": "P1", "i": 76.27, "p": 0.0023020},
      {"g": "P", "k": "P1", "i": 78.9, "p": 0.0022244},
      {"g": "P", "k": "P1", "i": 82.06, "p": 0.0021974},
      {"g": "P", "k": "P1", "i": 84.68, "p": 0.0021808},
      {"g": "P", "k": "P1", "i": 86.8, "p": 0.0021953},
      {"g": "P", "k": "P1", "i": 88.38, "p": 0.0022535},
      {"g": "P", "k": "P1", "i": 90.21, "p": 0.0023212},
      {"g": "P", "k": "P1", "i": 91.79, "p": 0.0023456},
      {"g": "P", "k": "P1", "i": 94.95, "p": 0.0023892},
      {"g": "P", "k": "P1", "i": 97.58, "p": 0.0024183},
      {"g": "P", "k": "P1", "i": 99.68, "p": 0.0023892},
      {"g": "P", "k": "P1", "i": 102.32, "p": 0.0023747},
      {"g": "P", "k": "P1", "i": 103.9, "p": 0.0023456},
      {"g": "P", "k": "P1", "i": 107.33, "p": 0.0023407},
      {"g": "P", "k": "P1", "i": 109.7, "p": 0.0022730},
      {"g": "P", "k": "P1", "i": 112.85, "p": 0.0022456},
      {"g": "P", "k": "P1", "i": 116.26, "p": 0.0022826},
      {"g": "P", "k": "P1", "i": 119.42, "p": 0.0022730},
      {"g": "P", "k": "P1", "i": 123.64, "p": 0.0022439},
      {"g": "P", "k": "P1", "i": 126.27, "p": 0.0021759},
      {"g": "P", "k": "P1", "i": 128.9, "p": 0.0020936},
      {"g": "P", "k": "P1", "i": 130.48, "p": 0.0020259},
      {"g": "P", "k": "P1", "i": 132.59, "p": 0.0019869},
      {"g": "P", "k": "P1", "i": 134.17, "p": 0.0019869},
      {"g": "P", "k": "P1", "i": 135.75, "p": 0.0020500},
      {"g": "P", "k": "P1", "i": 137.8, "p": 0.0020578},
      {"g": "P", "k": "P2", "i": -1.1, "p": 0.0021081},
      {"g": "P", "k": "P2", "i": 0.99, "p": 0.0021663},
      {"g": "P", "k": "P2", "i": 2.84, "p": 0.0022148},
      {"g": "P", "k": "P2", "i": 4.94, "p": 0.0023311},
      {"g": "P", "k": "P2", "i": 6.52, "p": 0.0023988},
      {"g": "P", "k": "P2", "i": 7.85, "p": 0.0024375},
      {"g": "P", "k": "P2", "i": 9.43, "p": 0.0024474},
      {"g": "P", "k": "P2", "i": 11.01, "p": 0.0024715},
      {"g": "P", "k": "P2", "i": 12.58, "p": 0.0024474},
      {"g": "P", "k": "P2", "i": 13.9, "p": 0.0023892},
      {"g": "P", "k": "P2", "i": 15.47, "p": 0.0023602},
      {"g": "P", "k": "P2", "i": 17.84, "p": 0.0023503},
      {"g": "P", "k": "P2", "i": 20.21, "p": 0.0023067},
      {"g": "P", "k": "P2", "i": 22.58, "p": 0.0023020},
      {"g": "P", "k": "P2", "i": 24.95, "p": 0.0023485},
      {"g": "P", "k": "P2", "i": 27.32, "p": 0.0023552},
      {"g": "P", "k": "P2", "i": 30.47, "p": 0.0023552},
      {"g": "P", "k": "P2", "i": 31.79, "p": 0.0023456},
      {"g": "P", "k": "P2", "i": 32.84, "p": 0.0022631},
      {"g": "P", "k": "P2", "i": 34.15, "p": 0.0022049},
      {"g": "P", "k": "P2", "i": 36.0, "p": 0.0021343},
      {"g": "P", "k": "P2", "i": 37.9, "p": 0.0021285},
      {"g": "P", "k": "P2", "i": 39.95, "p": 0.0021517},
      {"g": "P", "k": "P2", "i": 42.05, "p": 0.0022730},
      {"g": "P", "k": "P2", "i": 43.9, "p": 0.0023358},
      {"g": "P", "k": "P2", "i": 44.96, "p": 0.0023619},
      {"g": "P", "k": "P2", "i": 46.0, "p": 0.0023358},
      {"g": "P", "k": "P2", "i": 48.11, "p": 0.0023698},
      {"g": "P", "k": "P2", "i": 49.69, "p": 0.0023843},
      {"g": "P", "k": "P2", "i": 51.0, "p": 0.0023503},
      {"g": "P", "k": "P2", "i": 52.58, "p": 0.0022730},
      {"g": "P", "k": "P2", "i": 54.43, "p": 0.0022294},
      {"g": "P", "k": "P2", "i": 55.74, "p": 0.0022224},
      {"g": "P", "k": "P2", "i": 56.8, "p": 0.0022311},
      {"g": "P", "k": "P2", "i": 58.63, "p": 0.0022003},
      {"g": "P", "k": "P2", "i": 60.21, "p": 0.0021372},
      {"g": "P", "k": "P2", "i": 61.79, "p": 0.0020209},
      {"g": "P", "k": "P2", "i": 63.11, "p": 0.0019483},
      {"g": "P", "k": "P2", "i": 64.69, "p": 0.0019241},
      {"g": "P", "k": "P2", "i": 66.0, "p": 0.0018706},
      {"g": "P", "k": "P2", "i": 67.58, "p": 0.0018639},
      {"g": "P", "k": "P2", "i": 69.95, "p": 0.0018639},
      {"g": "P", "k": "P2", "i": 72.59, "p": 0.0018544},
      {"g": "P", "k": "P2", "i": 74.17, "p": 0.0018639},
      {"g": "P", "k": "P2", "i": 76.54, "p": 0.0018706},
      {"g": "P", "k": "P2", "i": 77.85, "p": 0.0018581},
      {"g": "P", "k": "P2", "i": 79.69, "p": 0.0018224},
      {"g": "P", "k": "P2", "i": 82.06, "p": 0.0018154},
      {"g": "P", "k": "P2", "i": 84.16, "p": 0.0018058},
      {"g": "P", "k": "P2", "i": 86.8, "p": 0.0018058},
      {"g": "P", "k": "P2", "i": 88.11, "p": 0.0017884},
      {"g": "P", "k": "P2", "i": 89.69, "p": 0.0017448},
      {"g": "P", "k": "P2", "i": 91.27, "p": 0.0017302},
      {"g": "P", "k": "P2", "i": 93.64, "p": 0.0017302},
      {"g": "P", "k": "P2", "i": 96.0, "p": 0.0017448},
      {"g": "P", "k": "P2", "i": 97.58, "p": 0.0017738},
      {"g": "P", "k": "P2", "i": 99.68, "p": 0.0018852},
      {"g": "P", "k": "P2", "i": 101.8, "p": 0.0019241},
      {"g": "P", "k": "P2", "i": 103.63, "p": 0.0019628},
      {"g": "P", "k": "P2", "i": 105.48, "p": 0.0019823},
      {"g": "P", "k": "P2", "i": 107.58, "p": 0.0019823},
      {"g": "P", "k": "P2", "i": 109.7, "p": 0.0020035},
      {"g": "P", "k": "P2", "i": 111.27, "p": 0.0020015},
      {"g": "P", "k": "P2", "i": 112.85, "p": 0.0019773},
      {"g": "P", "k": "P2", "i": 114.16, "p": 0.0019142},
      {"g": "P", "k": "P2", "i": 115.74, "p": 0.0018465},
      {"g": "P", "k": "P2", "i": 117.32, "p": 0.0017884},
      {"g": "P", "k": "P2", "i": 118.63, "p": 0.0017206},
      {"g": "P", "k": "P2", "i": 119.69, "p": 0.0016770},
      {"g": "P", "k": "P2", "i": 122.06, "p": 0.0016526},
      {"g": "P", "k": "P2", "i": 124.69, "p": 0.0016160},
      {"g": "P", "k": "P2", "i": 128.37, "p": 0.0016189},
      {"g": "P", "k": "P2", "i": 130.48, "p": 0.0016479},
      {"g": "P", "k": "P2", "i": 132.59, "p": 0.0016741},
      {"g": "P", "k": "P2", "i": 134.69, "p": 0.0016721},
      {"g": "P", "k": "P2", "i": 135.75, "p": 0.0016575},
      {"g": "P", "k": "P2", "i": 137.8, "p": 0.0016701}
    ]
  },
  "vconcat": [
    {
      "width": 897,
      "height": 780,
      "encoding": {
        "x": {
          "field": "i",
          "type": "quantitative",
          "scale": {"domain": [-1.1, 140.5], "nice": false, "zero": false},
          "axis": {
            "values": [18.9, 38.9, 58.9, 78.9, 98.9, 118.9, 138.9],
            "labels": false,
            "ticks": false,
            "domain": false,
            "grid": true,
            "title": null,
            "minExtent": 0,
            "maxExtent": 0,
            "offset": 0
          }
        }
      },
      "layer": [
        {
          "data": {"name": "candles"},
          "mark": {"type": "rule", "strokeWidth": 1, "clip": true},
          "encoding": {
            "y": {
              "field": "l",
              "type": "quantitative",
              "title": "Price",
              "scale": {"domain": [0.0015732, 0.0038407], "nice": false, "zero": false},
              "axis": {
                "orient": "right",
                "values": [0.002, 0.0025, 0.003, 0.0035],
                "format": ".4f",
                "grid": true,
                "titleAngle": 270,
                "titlePadding": 36,
                "labelPadding": 9
              }
            },
            "y2": {"field": "h"},
            "color": {
              "condition": {"test": "!(datum.c < datum.o)", "value": "#26a69a"},
              "value": "#ef5350"
            }
          }
        },
        {
          "data": {"name": "candles"},
          "mark": {"type": "bar", "width": 3.8, "clip": true},
          "encoding": {
            "y": {"field": "o", "type": "quantitative", "title": "Price"},
            "y2": {"field": "c"},
            "color": {
              "condition": {"test": "!(datum.c < datum.o)", "value": "#26a69a"},
              "value": "#ef5350"
            }
          }
        },
        {
          "data": {"name": "lines"},
          "mark": {"type": "line", "clip": true},
          "encoding": {
            "y": {"field": "p", "type": "quantitative", "title": "Price"},
            "detail": {"field": "k"},
            "color": {
              "field": "g",
              "type": "nominal",
              "scale": {
                "domain": ["W", "Y", "B", "P"],
                "range": ["#ffffff", "#f8c83c", "#3ea6f0", "#7a45f0"]
              },
              "legend": {
                "title": null,
                "orient": "top-left",
                "offset": 7,
                "padding": 3,
                "fillColor": "rgba(9,11,16,0.88)",
                "strokeColor": "#2d313a",
                "cornerRadius": 4,
                "symbolType": "stroke",
                "symbolSize": 1330,
                "symbolStrokeWidth": 4,
                "labelOffset": 12,
                "labelLimit": 400,
                "labelFont": "DejaVu Sans",
                "labelFontSize": 16.5,
                "rowPadding": 0,
                "clipHeight": 26.4,
                "labelExpr": "datum.value === 'W' ? 'White = Fast tunnel' : datum.value === 'Y' ? 'Yellow = Main tunnel' : datum.value === 'B' ? 'Blue = Slow tunnel' : 'Purple = BB band'",
                "encode": {
                  "labels": {
                    "update": {
                      "fill": {"signal": "datum.value === 'W' ? '#f2f2f2' : datum.value === 'Y' ? '#f5c542' : datum.value === 'B' ? '#42a5f5' : '#7c4dff'"}
                    }
                  },
                  "symbols": {
                    "update": {
                      "strokeDash": {"signal": "datum.value === 'P' ? [13, 7] : [1, 0]"}
                    }
                  }
                }
              }
            },
            "strokeWidth": {
              "field": "g",
              "type": "nominal",
              "scale": {
                "domain": ["W", "Y", "B"],
                "range": [2.8, 2.4, 2.4]
              },
              "legend": null
            }
          }
        },
        {
          "data": {"name": "bands"},
          "mark": {"type": "line", "clip": true, "strokeDash": [5, 3], "strokeWidth": 1.8},
          "encoding": {
            "y": {"field": "p", "type": "quantitative", "title": "Price"},
            "detail": {"field": "k"},
            "color": {"field": "g", "type": "nominal"}
          }
        }
      ]
    },
    {
      "width": 897,
      "height": 111,
      "data": {"name": "candles"},
      "mark": {"type": "bar", "width": 5.4, "stroke": "#1f6fb8", "strokeWidth": 0.9, "clip": true},
      "encoding": {
        "x": {
          "field": "i",
          "type": "quantitative",
          "scale": {"domain": [-1.1, 140.5], "nice": false, "zero": false},
          "axis": {
            "values": [18.9, 38.9, 58.9, 78.9, 98.9, 118.9, 138.9],
            "labels": false,
            "ticks": false,
            "domain": false,
            "grid": true,
            "title": null,
            "minExtent": 0,
            "maxExtent": 0
          }
        },
        "y": {
          "field": "v",
          "type": "quantitative",
          "title": "Volume  10⁶",
          "scale": {"domain": [2400, 84400], "nice": false, "zero": false},
          "axis": {
            "orient": "right",
            "values": [25000, 50000, 75000],
            "format": "d",
            "grid": true,
            "titleAngle": 270,
            "titlePadding": 36,
            "labelPadding": 9
          }
        },
        "color": {
          "condition": {"test": "!(datum.c < datum.o)", "value": "#26a69a"},
          "value": "#ef5350"
        }
      }
    }
  ],
  "spacing": 1,
  "config": {
    "background": "#131722",
    "font": "DejaVu Sans",
    "view": {"stroke": "#383c45", "strokeWidth": 2.6, "fill": "#131722"},
    "axis": {
      "gridColor": "#262a35",
      "gridWidth": 1,
      "domain": false,
      "labelFont": "DejaVu Sans",
      "labelFontSize": 20,
      "labelColor": "#888c97",
      "tickColor": "#888c97",
      "tickSize": 7,
      "tickWidth": 1.2,
      "titleFont": "DejaVu Sans",
      "titleFontSize": 22,
      "titleFontWeight": "bold",
      "titleColor": "#686c77"
    }
  }
}
